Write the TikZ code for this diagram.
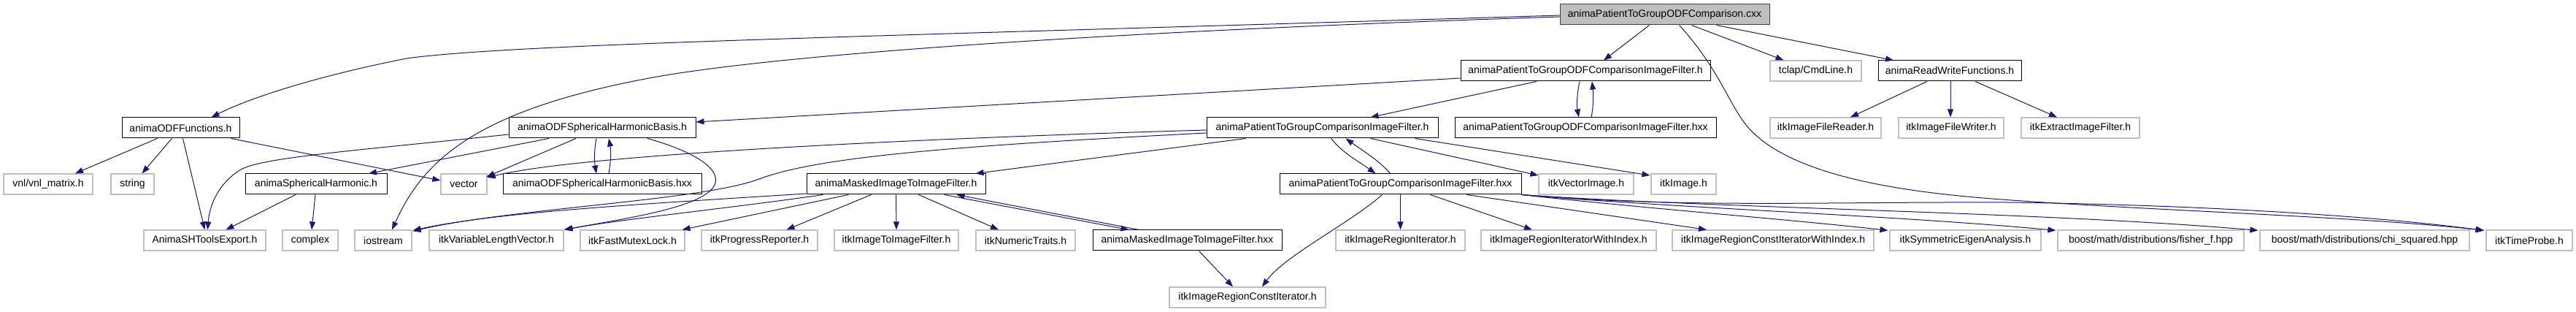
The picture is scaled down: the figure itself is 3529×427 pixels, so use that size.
\documentclass[tikz,border=0pt]{standalone}
\usepackage{fontspec}
\setmainfont{Liberation Sans}
\usetikzlibrary{arrows.meta,calc}
\definecolor{edgeblue}{HTML}{191970}
\definecolor{lgray}{HTML}{BFBFBF}
\definecolor{rootgray}{HTML}{BFBFBF}
\definecolor{rootborder}{HTML}{404040}
\newcommand\mknode[6]{\pgfmathsetmacro\mkcx{(#3+#4)/2}\pgfmathsetmacro\mkw{#4-#3}\node[#1,minimum width=\mkw pt] (#2) at (\mkcx,#5) {#6};}
\begin{document}
\begin{tikzpicture}[x=1pt,y=-1pt,
 box/.style={rectangle, inner sep=0pt, minimum height=28pt, line width=1pt, fill=white, font=\fontsize{14}{16}\selectfont},
 inc/.style={box, draw=black},
 ext/.style={box, draw=lgray, line width=1.2pt},
 root/.style={box, draw=rootborder, fill=rootgray},
 dep/.style={draw=edgeblue, line width=1pt, -{Triangle[length=11pt,width=8pt]}},
]
\fill[white] (0,0) rectangle (3529,427);
\useasboundingbox (0,0) rectangle (3529,427);
% row 0
\mknode{root}{cxx}{2137}{2424}{20}{animaPatientToGroupODFComparison.cxx}
% row 1
\mknode{inc}{odfcifh}{2001}{2343}{97}{animaPatientToGroupODFComparisonImageFilter.h}
\mknode{ext}{tclap}{2425}{2550}{97}{tclap/CmdLine.h}
\mknode{inc}{rwf}{2573}{2769}{97}{animaReadWriteFunctions.h}
% row 2
\mknode{inc}{odff}{167}{328}{175}{animaODFFunctions.h}
\mknode{inc}{shbh}{697}{953}{175}{animaODFSphericalHarmonicBasis.h}
\mknode{inc}{pcifh}{1653}{1970}{175}{animaPatientToGroupComparisonImageFilter.h}
\mknode{inc}{odfcifhxx}{1993}{2351}{175}{animaPatientToGroupODFComparisonImageFilter.hxx}
\mknode{ext}{reader}{2425}{2577}{175}{itkImageFileReader.h}
\mknode{ext}{writer}{2601}{2745}{175}{itkImageFileWriter.h}
\mknode{ext}{extract}{2769}{2931}{175}{itkExtractImageFilter.h}
% row 3
\mknode{ext}{vnl}{5}{127}{252}{vnl/vnl\_matrix.h}
\mknode{ext}{string}{152}{211}{252}{string}
\mknode{inc}{sh}{336}{530}{252}{animaSphericalHarmonic.h}
\mknode{ext}{vector}{604}{667}{252}{vector}
\mknode{inc}{shbhxx}{689}{961}{252}{animaODFSphericalHarmonicBasis.hxx}
\mknode{inc}{mifh}{1105}{1350}{252}{animaMaskedImageToImageFilter.h}
\mknode{inc}{pcifhxx}{1753}{2084}{252}{animaPatientToGroupComparisonImageFilter.hxx}
\mknode{ext}{vecimg}{2108}{2238}{252}{itkVectorImage.h}
\mknode{ext}{image}{2262}{2351}{252}{itkImage.h}
% row 4
\mknode{ext}{shexport}{197}{364}{329}{AnimaSHToolsExport.h}
\mknode{ext}{complex}{387}{463}{329}{complex}
\mknode{ext}{iostream}{486}{564}{329}{iostream}
\mknode{ext}{varlen}{588}{772}{329}{itkVariableLengthVector.h}
\mknode{ext}{mutex}{795}{938}{329}{itkFastMutexLock.h}
\mknode{ext}{progress}{961}{1120}{329}{itkProgressReporter.h}
\mknode{ext}{itoi}{1143}{1313}{329}{itkImageToImageFilter.h}
\mknode{ext}{numeric}{1337}{1473}{329}{itkNumericTraits.h}
\mknode{inc}{mifhxx}{1497}{1756}{329}{animaMaskedImageToImageFilter.hxx}
\mknode{ext}{rit}{1830}{2007}{329}{itkImageRegionIterator.h}
\mknode{ext}{ritwi}{2029}{2269}{329}{itkImageRegionIteratorWithIndex.h}
\mknode{ext}{rcitwi}{2291}{2567}{329}{itkImageRegionConstIteratorWithIndex.h}
\mknode{ext}{eigen}{2589}{2796}{329}{itkSymmetricEigenAnalysis.h}
\mknode{ext}{fisher}{2819}{3074}{329}{boost/math/distributions/fisher\_f.hpp}
\mknode{ext}{chi}{3096}{3383}{329}{boost/math/distributions/chi\_squared.hpp}
\mknode{ext}{timeprobe}{3406}{3524}{329}{itkTimeProbe.h}
% row 5
\mknode{ext}{rci}{1602}{1816}{407}{itkImageRegionConstIterator.h}

% ---- edges from cxx
\draw[dep] ($(cxx.west)+(0,1)$) .. controls (1200,50) and (700,60) .. (557,80) .. controls (430,105) and (340,135) .. ($(odff.north)+(42,0)$);
\draw[dep] ($(cxx.west)+(0,3)$) .. controls (1600,40) and (1100,70) .. (900,105) .. controls (650,150) and (580,220) .. ($(iostream.north)+(12,0)$);
\draw[dep] ($(cxx.south)+(-21,0)$) -- ($(odfcifh.north)+(25,0)$);
\draw[dep] ($(cxx.south)+(37,0)$) -- ($(tclap.north)+(-44,0)$);
\draw[dep] ($(cxx.south)+(71,0)$) -- ($(rwf.north)+(-77,0)$);
\draw[dep] ($(cxx.south)+(20,0)$) .. controls (2360,100) and (2370,150) .. (2400,180) .. controls (2480,260) and (2700,270) .. (2800,277) .. controls (3000,290) and (3250,298) .. ($(timeprobe.north west)+(-2,1)$);
% ---- odfcifh
\draw[dep] ($(odfcifh.west)+(0,10)$) -- ($(shbh.east)+(0,-8)$);
\draw[dep] ($(odfcifh.south)+(-67,0)$) -- ($(pcifh.north)+(66,0)$);
\draw[dep] ($(odfcifh.south)+(-8,0)$) .. controls (2160,130) and (2160,145) .. ($(odfcifhxx.north)+(-9,0)$);
\draw[dep] ($(odfcifhxx.north)+(8,0)$) .. controls (2183,145) and (2183,130) .. ($(odfcifh.south)+(9,0)$);
% ---- rwf
\draw[dep] ($(rwf.south)+(-31,0)$) -- ($(reader.north)+(34,0)$);
\draw[dep] ($(rwf.south)+(1,0)$) -- ($(writer.north)+(-1,0)$);
\draw[dep] ($(rwf.south)+(35,0)$) -- ($(extract.north)+(-32,0)$);
% ---- odff
\draw[dep] ($(odff.south)+(-32,0)$) -- ($(vnl.north)+(37,0)$);
\draw[dep] ($(odff.south)+(-12,0)$) -- ($(string.north)+(13,0)$);
\draw[dep] ($(odff.south)+(3,0)$) -- ($(shexport.north)+(0,0)$);
\draw[dep] ($(odff.south)+(69,0)$) -- ($(vector.west)+(0,-5)$);
% ---- shbh
\draw[dep] ($(shbh.west)+(0,9)$) .. controls (500,205) and (360,215) .. (330,232) .. controls (300,250) and (287,280) .. ($(shexport.north)+(4,0)$);
\draw[dep] ($(shbh.south)+(-73,0)$) -- ($(sh.north)+(72,0)$);
\draw[dep] ($(shbh.south)+(-36,0)$) -- ($(vector.east)+(-1,-10)$);
\draw[dep] ($(shbh.south)+(-8,0)$) .. controls (814,205) and (814,220) .. ($(shbhxx.north)+(-8,0)$);
\draw[dep] ($(shbhxx.north)+(9,0)$) .. controls (837,220) and (837,205) .. ($(shbh.south)+(9,0)$);
\draw[dep] ($(shbh.south)+(62,0)$) .. controls (960,210) and (990,235) .. (978,255) .. controls (960,285) and (850,300) .. (varlen.north east);
% ---- sh
\draw[dep] ($(sh.south)+(-28,0)$) -- ($(shexport.north)+(29,0)$);
\draw[dep] ($(sh.south)+(-1,0)$) -- ($(complex.north)+(2,0)$);
% ---- pcifh
\draw[dep] ($(pcifh.west)+(0,3)$) .. controls (1300,188) and (800,210) .. ($(vector.east)+(0,-9)$);
\draw[dep] ($(pcifh.west)+(0,7)$) .. controls (1300,200) and (1120,215) .. (1040,245) .. controls (960,275) and (700,285) .. ($(iostream.north east)+(1,2)$);
\draw[dep] ($(pcifh.south)+(-105,0)$) -- ($(mifh.north)+(109,0)$);
\draw[dep] ($(pcifh.south)+(12,0)$) .. controls (1840,210) and (1860,220) .. ($(pcifhxx.north)+(-34,0)$);
\draw[dep] ($(pcifhxx.north)+(-14,0)$) .. controls (1890,220) and (1865,205) .. ($(pcifh.south)+(32,0)$);
\draw[dep] ($(pcifh.south)+(66,0)$) -- ($(vecimg.west)+(0,-12)$);
\draw[dep] ($(pcifh.south)+(127,0)$) -- ($(image.west)+(-1,-12)$);
% ---- mifh
\draw[dep] ($(mifh.west)+(0,13)$) .. controls (900,278) and (680,290) .. ($(iostream.north east)+(1,1)$);
\draw[dep] ($(mifh.south)+(-100,0)$) .. controls (1000,285) and (850,300) .. ($(varlen.north east)+(1,0)$);
\draw[dep] ($(mifh.south)+(-65,0)$) -- ($(mutex.north)+(68,0)$);
\draw[dep] ($(mifh.south)+(-34,0)$) -- ($(progress.north)+(37,0)$);
\draw[dep] ($(mifh.south)+(0,0)$) -- ($(itoi.north)+(0,0)$);
\draw[dep] ($(mifh.south)+(31,0)$) -- ($(numeric.north)+(-37,0)$);
\draw[dep] ($(mifh.south)+(66,0)$) -- ($(mifhxx.north)+(-80,0)$);
\draw[dep] ($(mifhxx.north)+(-66,0)$) -- ($(mifh.south)+(83,0)$);
% ---- mifhxx
\draw[dep] ($(mifhxx.south)+(16,0)$) -- ($(rci.north)+(-20,0)$);
% ---- pcifhxx
\draw[dep] ($(pcifhxx.south)+(-25,0)$) .. controls (1850,305) and (1760,350) .. ($(rci.north)+(20,0)$);
\draw[dep] ($(pcifhxx.south)+(0,0)$) -- ($(rit.north)+(0,0)$);
\draw[dep] ($(pcifhxx.south)+(41,0)$) -- ($(ritwi.north)+(-50,0)$);
\draw[dep] ($(pcifhxx.south)+(91,0)$) -- ($(rcitwi.north)+(-91,0)$);
\draw[dep] (pcifhxx.south east) .. controls (2250,285) and (2450,300) .. ($(eigen.north west)+(-2,1)$);
\draw[dep] (pcifhxx.south east) .. controls (2300,285) and (2600,295) .. ($(fisher.north west)+(-2,1)$);
\draw[dep] (pcifhxx.south east) .. controls (2350,285) and (2800,290) .. ($(chi.north west)+(-2,1)$);
\draw[dep] (pcifhxx.south east) .. controls (2300,285) and (2500,276) .. (2750,277) .. controls (3000,280) and (3250,295) .. ($(timeprobe.north west)+(-3,1)$);
\end{tikzpicture}
\end{document}
